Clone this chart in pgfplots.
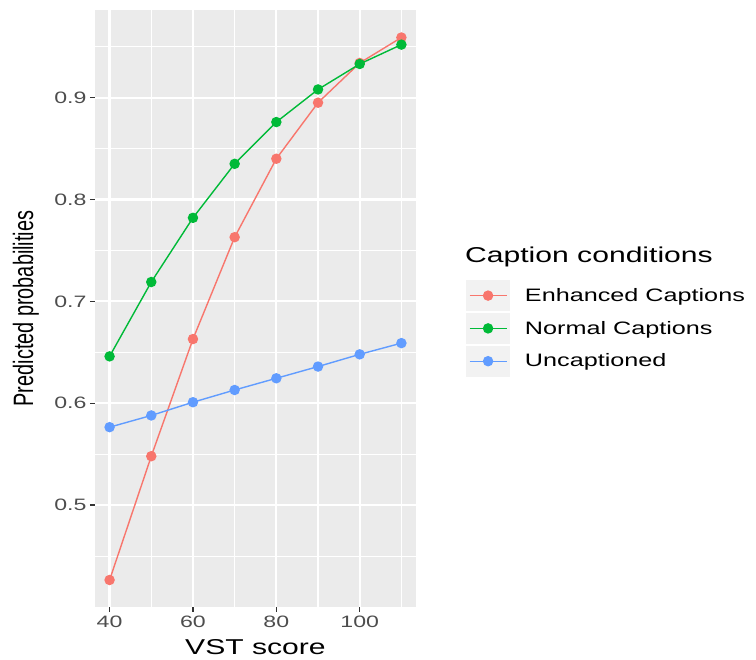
\documentclass[border=0pt]{standalone}
\usepackage{fontspec}
\setmainfont{Liberation Sans}[FakeStretch=1.4]
\newfontfamily\ylabfont{Liberation Sans}[FakeStretch=0.71]
\usepackage{pgfplots}
\pgfplotsset{compat=1.18}

\definecolor{ggred}{HTML}{F8766D}
\definecolor{gggreen}{HTML}{00BA38}
\definecolor{ggblue}{HTML}{619CFF}
\definecolor{panelbg}{HTML}{EBEBEB}
\definecolor{keybg}{HTML}{F2F2F2}
\definecolor{grey30}{HTML}{4D4D4D}
\definecolor{grey20}{HTML}{333333}

\begin{document}
\begin{tikzpicture}
\useasboundingbox (-95pt,-53pt) rectangle (661pt,607pt);
\begin{axis}[
  scale only axis,
  width=321pt, height=597pt,
  xmin=36.5, xmax=113.5,
  ymin=0.4, ymax=0.986,
  clip mode=individual,
  axis background/.style={fill=panelbg},
  axis line style={draw=none},
  xtick={40,60,80,100}, minor xtick={50,70,90,110},
  ytick={0.5,0.6,0.7,0.8,0.9}, minor ytick={0.45,0.55,0.65,0.75,0.85,0.95},
  grid=both,
  major grid style={white, line width=2.2pt},
  minor grid style={white, line width=1.1pt},
  tick align=outside, tick pos=left,
  major tick length=5pt, minor tick length=0pt,
  every tick/.style={grey20, line width=1.4pt},
  /pgf/number format/assume math mode=true,
  yticklabel style={/pgf/number format/fixed, /pgf/number format/precision=1,
    /pgf/number format/fixed zerofill},
  ticklabel style={font=\fontsize{16.5}{16.5}\selectfont, text=grey30},
  xlabel={VST score},
  xlabel style={at={(axis description cs:0.5,-0.0804)}, anchor=base,
    font=\fontsize{21.5}{21.5}\selectfont},
  ylabel={\ylabfont Predicted probabilities},
  ylabel style={at={(axis description cs:-0.193,0.5)}, anchor=base,
    font=\fontsize{28}{28}\selectfont},
  legend style={at={(rel axis cs:1.1526,0.5494)}, anchor=north west,
    draw=none, fill=none, inner sep=0pt, row sep=0pt, column sep=14pt,
    font=\fontsize{18}{18}\selectfont,
    nodes={inner sep=0pt, anchor=west}},
  legend cell align=left,
  legend image code/.code={
    \fill[keybg, draw=white, line width=0.8pt] (-4pt,-16pt) rectangle (41pt,16pt);
    \draw[mark repeat=2, mark phase=2, #1] plot coordinates {(0pt,0pt) (18.5pt,0pt) (37pt,0pt)};
  },
]
\addplot[ggred, line width=1.4pt, mark=*, mark size=4.5pt] coordinates {
  (40,0.4265) (50,0.548) (60,0.663) (70,0.763) (80,0.840) (90,0.895) (100,0.934) (110,0.959)};
\addlegendentry{Enhanced Captions}
\addplot[gggreen, line width=1.4pt, mark=*, mark size=4.5pt] coordinates {
  (40,0.646) (50,0.719) (60,0.782) (70,0.835) (80,0.876) (90,0.908) (100,0.933) (110,0.952)};
\addlegendentry{Normal Captions}
\addplot[ggblue, line width=1.4pt, mark=*, mark size=4.5pt] coordinates {
  (40,0.5765) (50,0.588) (60,0.601) (70,0.613) (80,0.6245) (90,0.636) (100,0.648) (110,0.659)};
\addlegendentry{Uncaptioned}
\node[anchor=base west, inner sep=0pt, font=\fontsize{21.5}{21.5}\selectfont]
  at (rel axis cs:1.1526,0.5762) {Caption conditions};
\end{axis}
\end{tikzpicture}
\end{document}
